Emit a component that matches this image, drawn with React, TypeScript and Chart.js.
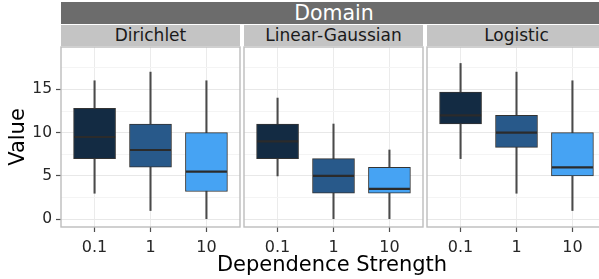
import React, { useEffect, useRef } from 'react';
import { Chart, registerables } from 'chart.js';

Chart.register(...registerables);

// ---------- data ----------
const categories = ['0.1', '1', '10'];
const domains = ['Dirichlet', 'Linear-Gaussian', 'Logistic'];
const yTickValues = [0, 2.5, 5, 7.5, 10, 12.5, 15, 17.5];
const fills = ['#132B43', '#28598A', '#46A3F3'];

const dirichletMin = [3, 1, 0];
const dirichletQ1 = [7, 6, 3.2];
const dirichletMedian = [9.5, 8, 5.5];
const dirichletQ3 = [12.8, 11, 10];
const dirichletMax = [16, 17, 16];

const gaussianMin = [5, 0, 0];
const gaussianQ1 = [7, 3, 3];
const gaussianMedian = [9, 5, 3.5];
const gaussianQ3 = [11, 7, 6];
const gaussianMax = [14, 11, 8];

const logisticMin = [7, 3, 1];
const logisticQ1 = [11, 8.3, 5];
const logisticMedian = [12, 10, 6];
const logisticQ3 = [14.7, 12, 10];
const logisticMax = [18, 17, 16];

const FONT = "'DejaVu Sans', 'Liberation Sans', sans-serif";

type Stats = { min: number[]; q1: number[]; med: number[]; q3: number[]; max: number[] };

const panelStats: Stats[] = [
  { min: dirichletMin, q1: dirichletQ1, med: dirichletMedian, q3: dirichletQ3, max: dirichletMax },
  { min: gaussianMin, q1: gaussianQ1, med: gaussianMedian, q3: gaussianQ3, max: gaussianMax },
  { min: logisticMin, q1: logisticQ1, med: logisticMedian, q3: logisticQ3, max: logisticMax },
];

// ---------- layout ----------
const PANELS = [
  { left: 0, width: 241, showY: true },
  { left: 243, width: 181, showY: false },
  { left: 426, width: 181, showY: false },
];
const PLOT_LEFTS = [61, 244, 427];
const PLOT_WIDTHS = [179, 179, 179];
const CANVAS_TOP = 46;
const CANVAS_H = 233;

function makePlugin(stats: Stats) {
  return {
    id: 'boxExtras',
    afterDatasetsDraw(chart: any) {
      const ctx = chart.ctx;
      const meta = chart.getDatasetMeta(0);
      const y = chart.scales.y;
      ctx.save();
      ctx.strokeStyle = '#2b2b2b';
      ctx.lineWidth = 2.2;
      meta.data.forEach((bar: any, i: number) => {
        const p = bar.getProps(['x', 'width'], true);
        const py = y.getPixelForValue(stats.med[i]);
        ctx.beginPath();
        ctx.moveTo(p.x - p.width / 2 + 0.5, py);
        ctx.lineTo(p.x + p.width / 2 - 0.5, py);
        ctx.stroke();
      });
      ctx.restore();
    },
    afterDraw(chart: any) {
      const a = chart.chartArea;
      const ctx = chart.ctx;
      ctx.save();
      ctx.strokeStyle = '#BDBDBD';
      ctx.lineWidth = 1.4;
      ctx.strokeRect(a.left, a.top, a.right - a.left, a.bottom - a.top);
      ctx.restore();
    },
  };
}

function makeConfig(stats: Stats, showY: boolean): any {
  return {
    type: 'bar',
    data: {
      datasets: [
        {
          label: 'box',
          data: categories.map((_, i) => ({ x: i, y: [stats.q1[i], stats.q3[i]] })),
          backgroundColor: fills,
          borderColor: '#333333',
          borderWidth: 1,
          borderSkipped: false,
          barThickness: 42,
          grouped: false,
          order: 0,
        },
        {
          label: 'whisker',
          data: categories.map((_, i) => ({ x: i, y: [stats.min[i], stats.max[i]] })),
          backgroundColor: '#4a4a4a',
          borderWidth: 0,
          barThickness: 1.4,
          grouped: false,
          order: 1,
        },
      ],
    },
    options: {
      animation: false,
      responsive: false,
      maintainAspectRatio: false,
      devicePixelRatio: 1,
      layout: { padding: { top: 1, left: showY ? 0 : 1, right: 1, bottom: 0 } },
      plugins: { legend: { display: false }, tooltip: { enabled: false } },
      scales: {
        x: {
          type: 'linear',
          min: -0.6,
          max: 2.6,
          offset: false,
          bounds: 'data',
          afterBuildTicks: (s: any) => {
            s.ticks = categories.map((_, i) => ({ value: i }));
          },
          afterFit: (s: any) => {
            s.height = 52;
            s.paddingLeft = 0;
            s.paddingRight = 0;
          },
          ticks: {
            callback: (v: number) => categories[Math.round(v)],
            font: { family: FONT, size: 16 },
            color: '#262626',
            padding: 6,
            maxRotation: 0,
            autoSkip: false,
          },
          grid: {
            offset: false,
            color: '#EBEBEB',
            lineWidth: 1,
            drawTicks: true,
            tickLength: 5,
            tickColor: '#4d4d4d',
            tickWidth: 1.2,
          },
          border: { display: false },
        },
        y: {
          min: -0.9,
          max: 19.9,
          bounds: 'data',
          afterBuildTicks: (s: any) => {
            s.ticks = yTickValues.map((v) => ({ value: v }));
          },
          afterFit: (s: any) => {
            s.width = showY ? 61 : 0;
            s.paddingTop = 0;
            s.paddingBottom = 0;
          },
          ticks: {
            display: showY,
            callback: (v: number) => (v % 5 === 0 ? String(v) : ''),
            font: { family: FONT, size: 15.5 },
            color: '#262626',
            padding: 4,
            autoSkip: false,
          },
          grid: {
            color: (c: any) => (c.tick && c.tick.value % 5 === 0 ? '#E8E8E8' : '#F4F4F4'),
            lineWidth: 1,
            drawTicks: showY,
            tickLength: 5,
            tickColor: (c: any) => (c.tick && c.tick.value % 5 === 0 ? '#4d4d4d' : 'rgba(0,0,0,0)'),
            tickWidth: 1.2,
          },
          border: { display: false },
          title: {
            display: showY,
            text: 'Value',
            color: '#000000',
            font: { family: FONT, size: 21 },
            padding: { top: 6, bottom: 0 },
          },
        },
      },
    },
    plugins: [makePlugin(stats)],
  };
}

function Panel({ idx }: { idx: number }) {
  const ref = useRef<HTMLCanvasElement>(null);
  const p = PANELS[idx];
  useEffect(() => {
    if (!ref.current) return;
    const chart = new Chart(ref.current, makeConfig(panelStats[idx], p.showY));
    return () => chart.destroy();
  }, [idx]);
  return (
    <canvas
      ref={ref}
      width={p.width}
      height={CANVAS_H}
      style={{ position: 'absolute', left: p.left, top: CANVAS_TOP, width: p.width, height: CANVAS_H }}
    />
  );
}

export default function App() {
  return (
    <div
      style={{
        position: 'fixed',
        left: 0,
        top: 0,
        width: 599,
        height: 279,
        overflow: 'hidden',
        background: '#FFFFFF',
        fontFamily: FONT,
      }}
    >
      <div
        style={{
          position: 'absolute',
          left: 61,
          top: 2,
          width: 546,
          height: 22,
          background: '#6C6C6C',
          color: '#FFFFFF',
          fontSize: 20.5,
          lineHeight: '22px',
          textAlign: 'center',
        }}
      >
        Domain
      </div>
      {domains.map((d, i) => (
        <div
          key={d}
          style={{
            position: 'absolute',
            left: PLOT_LEFTS[i],
            top: 25,
            width: PLOT_WIDTHS[i],
            height: 21,
            background: '#C4C4C4',
            color: '#1A1A1A',
            fontSize: 17,
            lineHeight: '21px',
            textAlign: 'center',
          }}
        >
          {d}
        </div>
      ))}
      {PANELS.map((_, i) => (
        <Panel key={i} idx={i} />
      ))}
      <div
        style={{
          position: 'absolute',
          left: 182,
          top: 251,
          width: 300,
          height: 26,
          lineHeight: '26px',
          fontSize: 21,
          color: '#000000',
          textAlign: 'center',
          whiteSpace: 'nowrap',
        }}
      >
        Dependence Strength
      </div>
    </div>
  );
}
